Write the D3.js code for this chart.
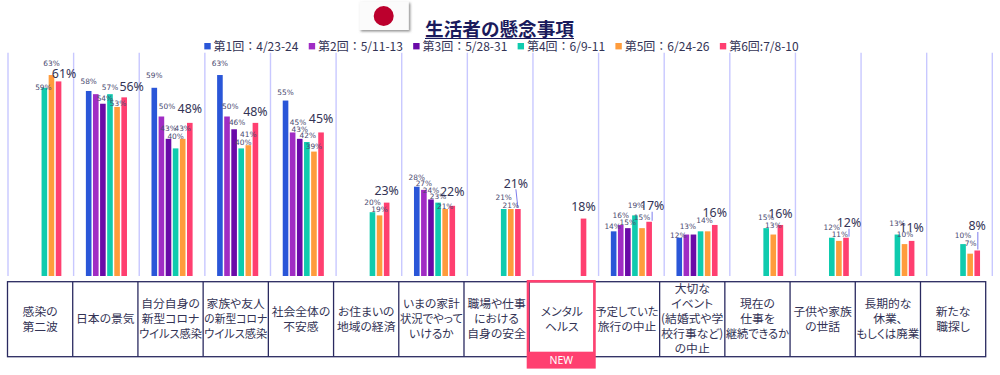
<!DOCTYPE html>
<html lang="ja">
<head>
<meta charset="utf-8">
<script src="https://cdn.jsdelivr.net/npm/d3@7"></script>
<style>
  body { margin: 0; background: #fff; }
  text { font-family: "Noto Sans CJK JP", "Noto Sans", sans-serif; }
  .num { font-family: "Noto Sans", sans-serif; }
  .num-small { font-family: "DejaVu Sans", sans-serif; }
</style>
</head>
<body>
<div id="chart"></div>
<script>
// =========================
// DATA
// =========================
const categories = [
  "感染の\n第二波", "日本の景気", "自分自身の\n新型コロナ\nウイルス感染", "家族や友人\nの新型コロナ\nウイルス感染",
  "社会全体の\n不安感", "お住まいの\n地域の経済", "いまの家計\n状況でやって\nいけるか", "職場や仕事\nにおける\n自身の安全",
  "メンタル\nヘルス", "予定していた\n旅行の中止", "大切な\nイベント\n(結婚式や学\n校行事など)\nの中止", "現在の\n仕事を\n継続できるか",
  "子供や家族\nの世話", "長期的な\n休業、\nもしくは廃業", "新たな\n職探し"
];
const seriesNames = ["第1回：4/23-24", "第2回：5/11-13", "第3回：5/28-31", "第4回：6/9-11", "第5回：6/24-26", "第6回:7/8-10"];
const round1 = [null, 58, 59, 63, 55, null, 28, null, null, 14, 12, null, null, null, null];
const round2 = [null, 57, 50, 50, 45, null, 27, null, null, 16, 13, null, null, null, null];
const round3 = [null, 54, 43, 46, 43, null, 24, null, null, 15, 13, null, null, null, null];
const round4 = [59, 57, 40, 40, 42, 20, 23, 21, null, 19, 14, 15, 12, 13, 10];
const round5 = [63, 53, 43, 41, 39, 19, 21, 21, null, 15, 14, 13, 11, 10, 7];
const round6 = [61, 56, 48, 48, 45, 23, 22, 21, 18, 17, 16, 16, 12, 11, 8];
const rounds = [round1, round2, round3, round4, round5, round6];
const newCategory = "メンタル\nヘルス";

// =========================
// LAYOUT
// =========================
const width = 1000, height = 375;
const colors = ["#2a56d8", "#a02cc4", "#6a0aa8", "#0fcbae", "#ff9c3c", "#ff3f70"];
const gridColor = "#c8c8ff", navy = "#2a2a60", ink = "#333355";

// label offsets from the bar's top centre, [dx, dy] per round; a missing round has no label
const labelNudge = [
  { 3: [-1, -0.5], 4: [0, -12], 5: [5.5, -7.5] },
  { 0: [0, -10], 2: [2, -5], 3: [0, -7], 4: [1, -4], 5: [7.5, -11] },
  { 0: [0, -12], 1: [5.6, -10], 2: [0, -10], 3: [0, -12], 4: [0, -10], 5: [0, -14.5] },
  { 0: [0, -12], 1: [3.3, -10], 2: [3, -7], 3: [2, -6], 4: [0, -10.5], 5: [0, -11] },
  { 0: [0, -8], 1: [5.4, -10], 2: [0, -9], 3: [1, -7], 4: [0, -5.5], 5: [0, -13.5] },
  { 3: [0, -10], 4: [0, -6], 5: [0, -12] },
  { 0: [0, -9.5], 1: [0, -6.5], 2: [0, -9.5], 3: [0, -6], 4: [0, -3], 5: [0, -14] },
  { 3: [0, -11.3], 4: [0, -3.3], 5: [-2, -25.7] },
  { 5: [0, -12] },
  { 0: [-1, -5], 1: [0, -10], 2: [0, -6], 3: [1, -9.5], 4: [0, -10.5], 5: [3, -16] },
  { 0: [-1, -2], 1: [1.5, -8], 3: [4, -10.5], 5: [0, -12.7] },
  { 3: [0, -11], 4: [0, -9], 5: [0, -11.7] },
  { 3: [0, -10.4], 4: [1, -6.6], 5: [3, -15] },
  { 3: [0, -11], 4: [0.5, -9.7], 5: [0, -13] },
  { 3: [0, -9], 4: [0.5, -10], 5: [0, -24.5] }
];
// [category index, round index] of labels that keep a leader line to their bar
const leaders = [[7, 5], [9, 5], [12, 5], [14, 5]];

const svg = d3.select("#chart").append("svg")
  .attr("width", width)
  .attr("height", height)
  .style("display", "block");

// =========================
// SCALES
// =========================
const x = d3.scaleBand().domain(d3.range(categories.length)).range([8, 992.3]);
const xRound = d3.scaleBand().domain(d3.range(6)).range([0, 42.6]).paddingInner(0.21).paddingOuter(0.105);
const y = d3.scaleLinear().domain([0, 70]).range([276, 52.7]);
const xTable = d3.scaleBand().domain(categories).range([7.5, 985.7]);

const barX = (c, r) => x(c) + (x.bandwidth() - xRound.range()[1]) / 2 + xRound(r);

// =========================
// GRIDLINES
// =========================
svg.append("g").selectAll("line")
  .data(d3.range(categories.length + 1))
  .join("line")
  .attr("x1", d => d === categories.length ? x.range()[1] : x(d))
  .attr("x2", d => d === categories.length ? x.range()[1] : x(d))
  .attr("y1", y.range()[1])
  .attr("y2", y.range()[0])
  .attr("stroke", gridColor)
  .attr("stroke-width", 1.4);

// =========================
// BARS
// =========================
const cells = rounds.flatMap((values, r) =>
  values.map((v, c) => ({ c, r, v })).filter(d => d.v !== null));

svg.append("g").selectAll("rect")
  .data(cells)
  .join("rect")
  .attr("x", d => barX(d.c, d.r))
  .attr("y", d => y(d.v))
  .attr("width", xRound.bandwidth())
  .attr("height", d => y(0) - y(d.v))
  .attr("fill", d => colors[d.r]);

// =========================
// LEADER LINES
// =========================
svg.append("g").selectAll("line")
  .data(leaders)
  .join("line")
  .attr("x1", ([c, r]) => barX(c, r) + xRound.bandwidth() / 2 + labelNudge[c][r][0] + (c === 14 ? 0.6 : 0))
  .attr("y1", ([c, r]) => y(rounds[r][c]) + labelNudge[c][r][1] + 6)
  .attr("x2", ([c, r]) => barX(c, r) + xRound.bandwidth() / 2 + (c === 7 ? 0 : labelNudge[c][r][0]) + (c === 14 ? 0.6 : 0))
  .attr("y2", ([c, r]) => y(rounds[r][c]) - 1)
  .attr("stroke", "#5a5ae8")
  .attr("stroke-width", 0.8);

// =========================
// VALUE LABELS
// =========================
svg.append("g").selectAll("text")
  .data(cells.filter(d => labelNudge[d.c][d.r]))
  .join("text")
  .attr("class", d => d.r === 5 ? "num" : "num-small")
  .attr("x", d => barX(d.c, d.r) + xRound.bandwidth() / 2 + labelNudge[d.c][d.r][0])
  .attr("y", d => y(d.v) + labelNudge[d.c][d.r][1])
  .attr("dy", "0.35em")
  .attr("text-anchor", "middle")
  .attr("font-size", d => d.r === 5 ? 12.4 : 7.4)
  .attr("fill", d => d.r === 5 ? ink : "#4a4a70")
  .text(d => `${d.v}%`);

// =========================
// CATEGORY TABLE
// =========================
const tableTop = 281.7, tableBottom = 356.7;
const maxLineWidth = 63;
const table = svg.append("g");

table.append("rect")
  .attr("x", xTable.range()[0])
  .attr("y", tableTop)
  .attr("width", xTable.range()[1] - xTable.range()[0])
  .attr("height", tableBottom - tableTop)
  .attr("fill", "none")
  .attr("stroke", navy)
  .attr("stroke-width", 1.3);

table.selectAll("line")
  .data(categories.slice(1))
  .join("line")
  .attr("x1", d => xTable(d))
  .attr("x2", d => xTable(d))
  .attr("y1", tableTop)
  .attr("y2", tableBottom)
  .attr("stroke", navy)
  .attr("stroke-width", 1.3);

categories.forEach(name => {
  const lines = name.split("\n");
  const midY = (tableTop + tableBottom) / 2;
  lines.forEach((line, i) => {
    const t = table.append("text")
      .attr("x", xTable(name) + xTable.bandwidth() / 2)
      .attr("y", midY + (i - (lines.length - 1) / 2) * 15)
      .attr("dy", "0.36em")
      .attr("text-anchor", "middle")
      .attr("font-size", 11.8)
      .attr("fill", ink)
      .style("font-feature-settings", '"palt"')
      .text(line);
    // long lines are squeezed so they stay inside their cell
    if (t.node().getComputedTextLength() > maxLineWidth) {
      t.attr("textLength", maxLineWidth).attr("lengthAdjust", "spacingAndGlyphs");
    }
  });
});

// =========================
// NEW HIGHLIGHT
// =========================
const newX = xTable(newCategory), newW = xTable.bandwidth();
const highlight = "#ff4070";

svg.append("rect")
  .attr("x", newX - 1.2)
  .attr("y", 281.3)
  .attr("width", newW + 1.2)
  .attr("height", 86)
  .attr("fill", "none")
  .attr("stroke", highlight)
  .attr("stroke-width", 2.6);

svg.append("rect")
  .attr("x", newX - 1.2)
  .attr("y", 351.7)
  .attr("width", newW + 1.2)
  .attr("height", 15.6)
  .attr("fill", highlight);

svg.append("text")
  .attr("class", "num")
  .attr("x", newX + newW / 2 - 0.5)
  .attr("y", 360)
  .attr("dy", "0.35em")
  .attr("text-anchor", "middle")
  .attr("font-size", 10.5)
  .attr("fill", "#fff")
  .text("NEW");

// =========================
// LEGEND
// =========================
const legend = svg.append("g");
let legendX = 204.3;
seriesNames.forEach((name, i) => {
  legend.append("rect")
    .attr("x", legendX)
    .attr("y", 43)
    .attr("width", 6.4)
    .attr("height", 6.4)
    .attr("fill", colors[i]);
  const label = legend.append("text")
    .attr("x", legendX + 9.3)
    .attr("y", 46.3)
    .attr("dy", "0.36em")
    .attr("font-size", 12)
    .attr("fill", ink)
    .text(name);
  legendX += 9.3 + label.node().getComputedTextLength() + 10.3;
});

// =========================
// TITLE AND FLAG
// =========================
const shadow = svg.append("defs").append("filter")
  .attr("id", "flag-shadow")
  .attr("x", "-10%").attr("y", "-10%")
  .attr("width", "125%").attr("height", "130%");
shadow.append("feDropShadow")
  .attr("dx", 1.5).attr("dy", 1.5)
  .attr("stdDeviation", 0.8)
  .attr("flood-color", "#777")
  .attr("flood-opacity", 0.8);

svg.append("rect")
  .attr("x", 359.3)
  .attr("y", 1.5)
  .attr("width", 49.5)
  .attr("height", 28.5)
  .attr("fill", "#fbfbfb")
  .attr("filter", "url(#flag-shadow)");

svg.append("circle")
  .attr("cx", 383.7)
  .attr("cy", 16)
  .attr("r", 10)
  .attr("fill", "#bc002d");

svg.append("text")
  .attr("x", 499.5)
  .attr("y", 29)
  .attr("dy", "0.36em")
  .attr("text-anchor", "middle")
  .attr("font-size", 18.6)
  .attr("font-weight", 700)
  .attr("fill", "#1a1a5c")
  .text("生活者の懸念事項");

svg.append("line")
  .attr("x1", 425)
  .attr("x2", 574)
  .attr("y1", 38.5)
  .attr("y2", 38.5)
  .attr("stroke", "#1a1a5c")
  .attr("stroke-width", 1.2);
</script>
</body>
</html>
